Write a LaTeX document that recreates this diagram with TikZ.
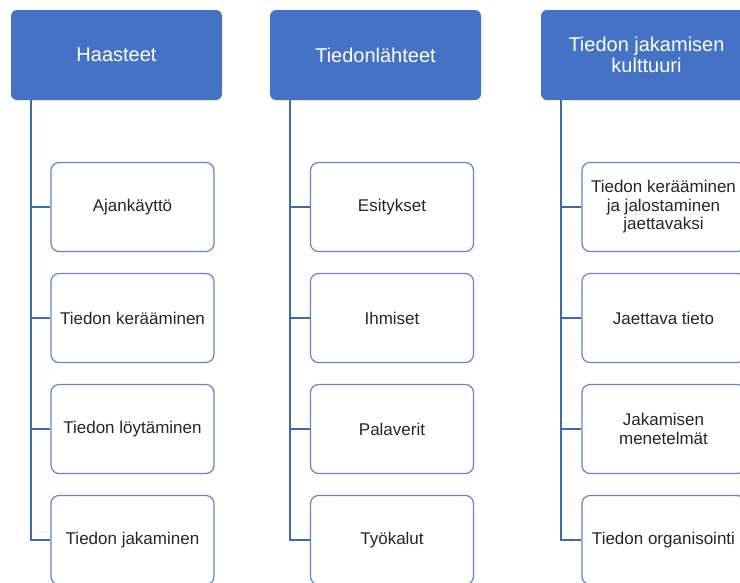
\documentclass[tikz,border=0pt]{standalone}
\usepackage{fontspec}
\setmainfont{Liberation Sans}
\usetikzlibrary{positioning}
\definecolor{hblue}{HTML}{4472C4}
\definecolor{lblue}{HTML}{3F68B5}
\definecolor{txtgray}{HTML}{262626}
\begin{document}
\begin{tikzpicture}[
       x=1pt, y=-1pt,
       node distance=111pt,
       header/.style={rectangle, fill=hblue, text=white, minimum width=211pt, minimum height=90pt, align=center, rounded corners=6pt, inner sep=0pt, font=\fontsize{20}{21.5}\selectfont},
       child/.style={rectangle, draw=hblue!85, fill=white, line width=1.2pt, text=txtgray, minimum width=163pt, minimum height=89pt, align=center, rounded corners=8pt, inner sep=0pt, font=\fontsize{17}{18.5}\selectfont},
       link/.style={draw=lblue, line width=2pt}
   ]
   \useasboundingbox (0,0) rectangle (740,582);
   \clip (0,0) rectangle (740,582);
   \fill[white] (0,0) rectangle (740,582);

   \node[header] (head1) at (116.5,55) {Haasteet};
   \node[header] (head2) at (375.5,55) {Tiedonlähteet};
   \node[header] (head3) at (646.5,55) {Tiedon jakamisen\\kulttuuri};

   \node[child] (c11) at (132.5,207) {Ajankäyttö};
   \node[child, below of=c11] (c12) {Tiedon kerääminen};
   \node[child, below of=c12] (c13) {Tiedon löytäminen};
   \node[child, below of=c13] (c14) {Tiedon jakaminen};

   \node[child] (c21) at (392,207) {Esitykset};
   \node[child, below of=c21] (c22) {Ihmiset};
   \node[child, below of=c22] (c23) {Palaverit};
   \node[child, below of=c23] (c24) {Työkalut};

   \node[child] (c31) at (663.5,207) {Tiedon kerääminen\\ja jalostaminen\\jaettavaksi};
   \node[child, below of=c31] (c32) {Jaettava tieto};
   \node[child, below of=c32] (c33) {Jakamisen\\menetelmät};
   \node[child, below of=c33] (c34) {Tiedon organisointi};

   \foreach \col in {1,2,3}
     \foreach \row in {1,2,3,4}
       \draw[link] ([xshift=20pt]head\col.south west) |- (c\col\row.west);
   \end{tikzpicture}
\end{document}
